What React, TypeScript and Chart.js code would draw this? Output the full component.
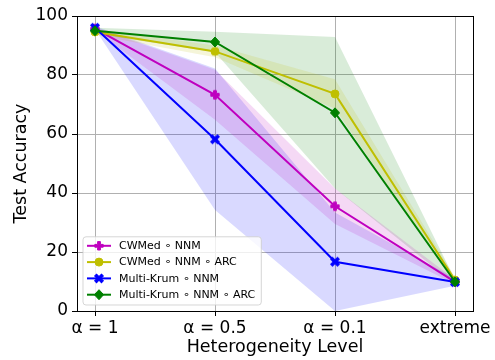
import React, { useEffect, useRef } from 'react';
import { Chart, registerables } from 'chart.js';
Chart.register(...registerables);

const categories = ['α = 1', 'α = 0.5', 'α = 0.1', 'extreme'];
const yTicks = [0, 20, 40, 60, 80, 100];
const seriesNames = ['CWMed ∘ NNM', 'CWMed ∘ NNM ∘ ARC', 'Multi-Krum ∘ NNM', 'Multi-Krum ∘ NNM ∘ ARC'];

const cwmedNNM = [95.7, 73.3, 35.5, 9.9];
const cwmedNNMStd = [0.5, 8.5, 6.0, 0.8];
const cwmedARC = [94.6, 88.0, 73.6, 10.5];
const cwmedARCStd = [1.0, 2.0, 5.0, 1.0];
const krumNNM = [96.0, 58.2, 16.7, 9.8];
const krumNNMStd = [0.5, 24.0, 16.7, 1.2];
const krumARC = [95.0, 91.2, 67.2, 9.9];
const krumARCStd = [1.0, 3.5, 25.7, 0.8];

const FONT = 'DejaVu Sans';

type Kind = 'plus' | 'circle' | 'x' | 'diamond';

function drawMarker(ctx: CanvasRenderingContext2D, kind: Kind, x: number, y: number, color: string) {
  ctx.save();
  ctx.fillStyle = color;
  ctx.strokeStyle = color;
  ctx.lineWidth = 1;
  ctx.translate(x, y);
  const plus = (a: number, t: number) => {
    ctx.beginPath();
    ctx.moveTo(-t, -a); ctx.lineTo(t, -a); ctx.lineTo(t, -t); ctx.lineTo(a, -t);
    ctx.lineTo(a, t); ctx.lineTo(t, t); ctx.lineTo(t, a); ctx.lineTo(-t, a);
    ctx.lineTo(-t, t); ctx.lineTo(-a, t); ctx.lineTo(-a, -t); ctx.lineTo(-t, -t);
    ctx.closePath();
    ctx.fill();
    ctx.stroke();
  };
  if (kind === 'circle') {
    ctx.beginPath();
    ctx.arc(0, 0, 4, 0, Math.PI * 2);
    ctx.fill();
    ctx.stroke();
  } else if (kind === 'diamond') {
    ctx.beginPath();
    ctx.moveTo(0, -5); ctx.lineTo(4.6, 0); ctx.lineTo(0, 5); ctx.lineTo(-4.6, 0);
    ctx.closePath();
    ctx.fill();
    ctx.stroke();
  } else if (kind === 'plus') {
    plus(4.2, 1.4);
  } else {
    ctx.rotate(Math.PI / 4);
    plus(4.8, 1.3);
  }
  ctx.restore();
}

function markerCanvas(kind: Kind, color: string): HTMLCanvasElement {
  const c = document.createElement('canvas');
  c.width = 16;
  c.height = 16;
  const ctx = c.getContext('2d')!;
  drawMarker(ctx, kind, 8, 8, color);
  return c;
}

const series = [
  { name: seriesNames[0], mean: cwmedNNM, std: cwmedNNMStd, color: '#bf00bf', fill: 'rgba(191,0,191,0.15)', kind: 'plus' as Kind },
  { name: seriesNames[1], mean: cwmedARC, std: cwmedARCStd, color: '#bfbf00', fill: 'rgba(191,191,0,0.15)', kind: 'circle' as Kind },
  { name: seriesNames[2], mean: krumNNM, std: krumNNMStd, color: '#0000ff', fill: 'rgba(0,0,255,0.15)', kind: 'x' as Kind },
  { name: seriesNames[3], mean: krumARC, std: krumARCStd, color: '#008000', fill: 'rgba(0,128,0,0.15)', kind: 'diamond' as Kind },
];

const framePlugin = {
  id: 'frame',
  afterDatasetsDraw(chart: any) {
    const { ctx, chartArea: a } = chart;
    ctx.save();
    ctx.strokeStyle = '#000';
    ctx.lineWidth = 1;
    ctx.strokeRect(Math.round(a.left) + 0.5, Math.round(a.top) + 0.5, Math.round(a.right - a.left), Math.round(a.bottom - a.top));
    ctx.restore();
  },
};

const legendPlugin = {
  id: 'innerLegend',
  afterDraw(chart: any) {
    const { ctx, chartArea: a } = chart;
    ctx.save();
    ctx.font = `11px "${FONT}"`;
    const tw = Math.max(...series.map((s) => ctx.measureText(s.name).width));
    const rowH = 16.3;
    const w = 36 + tw + 6;
    const h = rowH * series.length + 3;
    const x0 = a.left + 6;
    const y0 = a.bottom - 6 - h;
    ctx.fillStyle = 'rgba(255,255,255,0.8)';
    ctx.strokeStyle = 'rgba(204,204,204,0.8)';
    ctx.lineWidth = 1;
    const r = 3;
    ctx.beginPath();
    ctx.moveTo(x0 + r, y0);
    ctx.lineTo(x0 + w - r, y0);
    ctx.arcTo(x0 + w, y0, x0 + w, y0 + r, r);
    ctx.lineTo(x0 + w, y0 + h - r);
    ctx.arcTo(x0 + w, y0 + h, x0 + w - r, y0 + h, r);
    ctx.lineTo(x0 + r, y0 + h);
    ctx.arcTo(x0, y0 + h, x0, y0 + h - r, r);
    ctx.lineTo(x0, y0 + r);
    ctx.arcTo(x0, y0, x0 + r, y0, r);
    ctx.closePath();
    ctx.fill();
    ctx.stroke();
    series.forEach((s, i) => {
      const cy = y0 + 9 + i * rowH;
      ctx.strokeStyle = s.color;
      ctx.lineWidth = 2;
      ctx.beginPath();
      ctx.moveTo(x0 + 4, cy);
      ctx.lineTo(x0 + 28, cy);
      ctx.stroke();
      drawMarker(ctx, s.kind, x0 + 16, cy, s.color);
      ctx.fillStyle = '#000';
      ctx.textBaseline = 'middle';
      ctx.textAlign = 'left';
      ctx.fillText(s.name, x0 + 36, cy + 0.5);
    });
    ctx.restore();
  },
};

export default function App() {
  const ref = useRef<HTMLCanvasElement | null>(null);
  useEffect(() => {
    document.body.style.margin = '0';
    const canvas = ref.current!;
    const bandSets: any[] = [];
    series.forEach((s) => {
      bandSets.push({
        label: s.name + ' low',
        data: s.mean.map((m, i) => ({ x: i, y: m - s.std[i] })),
        borderWidth: 0,
        pointRadius: 0,
        fill: false,
        backgroundColor: s.fill,
      });
      bandSets.push({
        label: s.name + ' high',
        data: s.mean.map((m, i) => ({ x: i, y: m + s.std[i] })),
        borderWidth: 0,
        pointRadius: 0,
        fill: '-1',
        backgroundColor: s.fill,
      });
    });
    const lineSets = [...series].reverse().map((s) => ({
      label: s.name,
      data: s.mean.map((m, i) => ({ x: i, y: m })),
      borderColor: s.color,
      backgroundColor: s.color,
      borderWidth: 2,
      pointStyle: markerCanvas(s.kind, s.color),
      pointRadius: 5,
      fill: false,
      tension: 0,
    }));
    const chart = new Chart(canvas, {
      type: 'line',
      data: { datasets: [...lineSets, ...bandSets] },
      options: {
        animation: false,
        responsive: false,
        devicePixelRatio: 1,
        layout: { padding: { left: 0, right: 22, top: 16, bottom: 0 } },
        plugins: {
          legend: { display: false },
          tooltip: { enabled: false },
          filler: { drawTime: 'beforeDatasetsDraw' },
        },
        scales: {
          x: {
            type: 'linear',
            min: -0.15,
            max: 3.15,
            afterBuildTicks: (s: any) => {
              s.ticks = categories.map((_, i) => ({ value: i }));
            },
            afterFit: (s: any) => {
              s.height = 49;
            },
            ticks: {
              callback: (v: any) => categories[v as number] ?? '',
              font: { family: FONT, size: 17 },
              color: '#000',
              padding: 2,
              maxRotation: 0,
              autoSkip: false,
            },
            grid: { color: '#b0b0b0', tickColor: '#000', tickLength: 5, lineWidth: 1 },
            border: { color: '#000', width: 1 },
            title: {
              display: true,
              text: 'Heterogeneity Level',
              font: { family: FONT, size: 17.5 },
              color: '#000',
              padding: { top: 0, bottom: 2 },
            },
          },
          y: {
            type: 'linear',
            min: 0,
            max: 100,
            afterBuildTicks: (s: any) => {
              s.ticks = yTicks.map((v) => ({ value: v }));
            },
            afterFit: (s: any) => {
              s.width = 77;
            },
            ticks: {
              font: { family: FONT, size: 17 },
              color: '#000',
              padding: 4,
            },
            grid: { color: '#b0b0b0', tickColor: '#000', tickLength: 5, lineWidth: 1 },
            border: { color: '#000', width: 1 },
            title: {
              display: true,
              text: 'Test Accuracy',
              font: { family: FONT, size: 17.5 },
              color: '#000',
              padding: { top: 11, bottom: 0 },
            },
          },
        },
      } as any,
      plugins: [framePlugin, legendPlugin],
    });
    return () => chart.destroy();
  }, []);
  return <canvas ref={ref} width={495} height={360} style={{ display: 'block' }} />;
}
